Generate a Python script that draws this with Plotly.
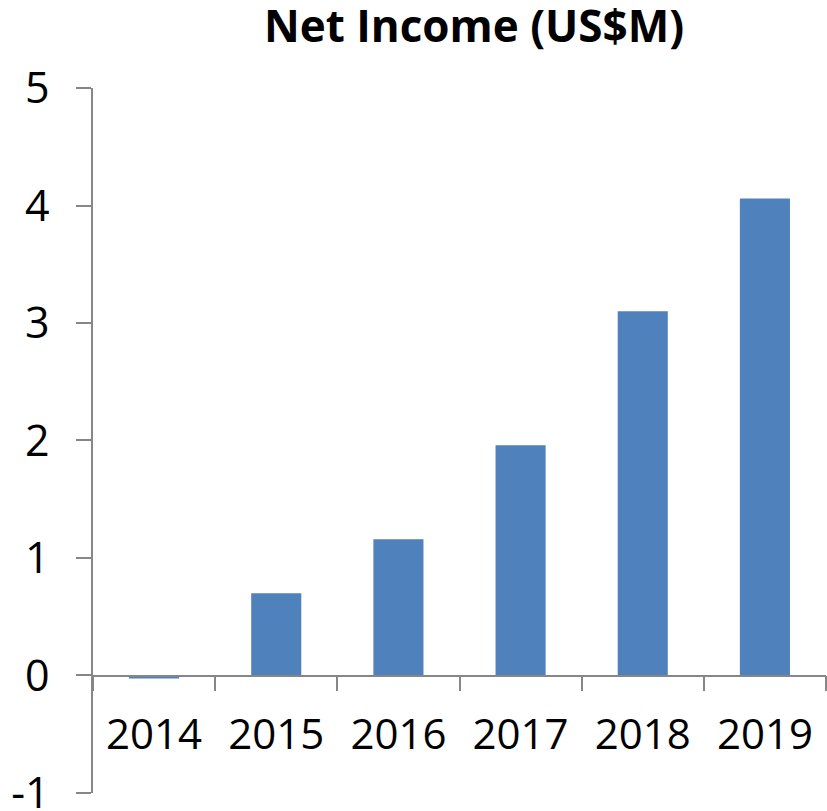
import plotly.graph_objects as go

years = ["2014", "2015", "2016", "2017", "2018", "2019"]
net_income = [-0.025, 0.70, 1.16, 1.96, 3.10, 4.06]
y_ticks = [-1, 0, 1, 2, 3, 4, 5]

W, H = 827, 811
ML, MR, MT, MB = 93, 1, 88, 18
FONT = "Open Sans"
AXIS = "#868686"

fig = go.Figure(go.Bar(
    x=years, y=net_income,
    marker=dict(color="#4F81BD", line=dict(width=0)),
))

y_min, y_max = -1, 5
fig.update_layout(
    width=W, height=H,
    margin=dict(l=ML, r=MR, t=MT, b=MB, autoexpand=False),
    paper_bgcolor="white", plot_bgcolor="white",
    bargap=0.59,
    showlegend=False,
    font=dict(family=FONT, color="black"),
    title=dict(
        text="<b>Net Income (US$M)</b>",
        font=dict(family=FONT, size=44, color="black"),
        x=474 / W, xanchor="center", xref="container",
        y=1 - 27 / H, yanchor="middle", yref="container",
    ),
    xaxis=dict(
        type="category",
        range=[-0.5, 5.5],
        anchor="free",
        position=(0 - y_min) / (y_max - y_min),
        showline=True, linecolor=AXIS, linewidth=1.5,
        ticks="outside", tickson="boundaries", ticklen=15, tickcolor=AXIS, tickwidth=1.5,
        showgrid=False, zeroline=False, automargin=False,
        tickfont=dict(family=FONT, size=42, color="black"),
        ticklabelstandoff=22,
        ticklabeloverflow="allow",
    ),
    yaxis=dict(
        range=[y_min - 0.0001, y_max],
        tickvals=y_ticks,
        ticktext=[str(v) for v in y_ticks],
        showline=True, linecolor=AXIS, linewidth=1.5,
        ticks="outside", ticklen=15, tickcolor=AXIS, tickwidth=1.5,
        showgrid=False, zeroline=False, automargin=False,
        tickfont=dict(family=FONT, size=43, color="black"),
        ticklabelstandoff=18,
        ticklabeloverflow="allow",
    ),
)

fig.write_html(
    "out.html",
    config={"displayModeBar": False},
    post_script="document.body.style.margin='0';document.body.style.overflow='hidden';",
)
